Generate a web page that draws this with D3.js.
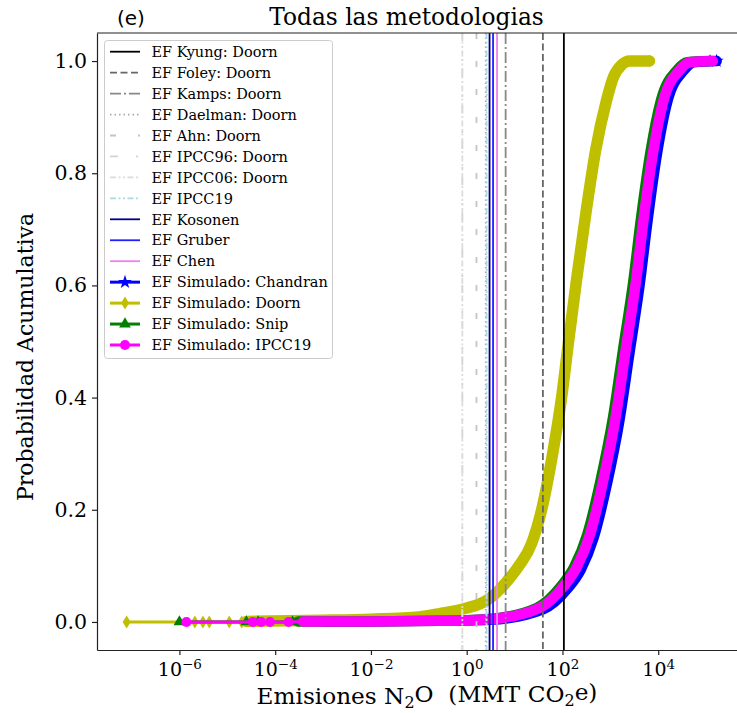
<!DOCTYPE html>
<html>
<head>
<meta charset="utf-8">
<script src="https://cdn.jsdelivr.net/npm/d3@7"></script>
<style>
  body { margin: 0; background: #fff; }
  text { font-family: "DejaVu Serif", serif; fill: #000; }
</style>
</head>
<body>
<div id="container"></div>
<script>
/* CONSTANTS AND GLOBALS */
const width = 737,
  height = 713,
  margin = { top: 33, bottom: 63, left: 97 };
const plotRight = 754; // right spine sits just past the picture edge

/* DATA */
// reference emission factors, MMT CO2e -> one vertical line each
const refLabels = [
  "EF Kyung: Doorn", "EF Foley: Doorn", "EF Kamps: Doorn", "EF Daelman: Doorn",
  "EF Ahn: Doorn", "EF IPCC96: Doorn", "EF IPCC06: Doorn", "EF IPCC19",
  "EF Kosonen", "EF Gruber", "EF Chen"
];
const refValues = [107, 39, 6.5, 2.5, 1.6, 0.81, 0.81, 2.6, 3.0, 3.55, 4.3];

// simulated CDFs: emissions (MMT CO2e) and cumulative probability
const chandranValues = [1e-3, 0.1, 3.0, 40, 129, 240, 447, 832, 1550, 2510, 4070, 6030, 9550, 15500, 33900, 55000, 166000];
const chandranProbs  = [0.001, 0.002, 0.004, 0.023, 0.060, 0.093, 0.150, 0.243, 0.360, 0.480, 0.600, 0.718, 0.838, 0.928, 0.983, 0.998, 1.0];
const chandranTail   = [];

const doornValues = [2.5e-5, 1e-3, 1e-2, 0.1, 0.275, 1.0, 1.87, 3.02, 4.88, 7.89, 12.8, 22.7, 36.7, 62.3, 95.9, 134, 197, 304, 491, 833, 1167, 1714, 2518, 6580];
const doornProbs  = [0.001, 0.003, 0.005, 0.009, 0.015, 0.025, 0.032, 0.042, 0.058, 0.078, 0.102, 0.14, 0.20, 0.30, 0.40, 0.50, 0.61, 0.725, 0.84, 0.93, 0.972, 0.993, 1.0, 1.0];
const doornTail   = [7.9e-8, 2.1e-6, 3.1e-6, 4.2e-6, 1.1e-5, 2.0e-5];

const snipValues = [3.0e-4, 1e-2, 0.24, 2.6, 29, 94, 176, 327, 609, 1140, 1840, 2980, 4410, 6990, 11400, 24800, 40200, 121000];
const snipProbs  = [0.001, 0.001, 0.002, 0.005, 0.025, 0.064, 0.098, 0.155, 0.248, 0.365, 0.485, 0.604, 0.722, 0.841, 0.930, 0.984, 0.998, 1.0];
const snipTail   = [1.0e-6, 2.5e-5, 4.4e-5, 2.3e-4];

const ipcc19Values = [3.8e-4, 1e-2, 0.275, 3.0, 33, 107, 200, 372, 692, 1290, 2090, 3390, 5010, 7940, 12900, 28200, 45700, 138000];
const ipcc19Probs  = [0.001, 0.001, 0.002, 0.005, 0.025, 0.064, 0.098, 0.155, 0.248, 0.365, 0.485, 0.604, 0.722, 0.841, 0.930, 0.984, 0.998, 1.0];
const ipcc19Tail   = [1.4e-6, 3.4e-5, 5.1e-5, 7.8e-5, 1.9e-4];

const simLabels = ["EF Simulado: Chandran", "EF Simulado: Doorn", "EF Simulado: Snip", "EF Simulado: IPCC19"];

const yTicks = [0, 0.2, 0.4, 0.6, 0.8, 1.0];
const xTickExps = [-6, -4, -2, 0, 2, 4];

/* STYLES */
const refStyles = [
  { color: "#000000", dash: null },
  { color: "#666666", dash: "7,3.5" },
  { color: "#888888", dash: "11,3,2,3" },
  { color: "#aaaaaa", dash: "1.5,3" },
  { color: "#c4c4c4", dash: "6,22" },
  { color: "#d3d3d3", dash: "8,18,2,8" },
  { color: "#dcdcdc", dash: "6,2.5,2,2.5,2,2.5" },
  { color: "#add8e6", dash: "6,2.5,2,2.5,2,2.5" },
  { color: "#00008b", dash: null },
  { color: "#2020ff", dash: null },
  { color: "#ee82ee", dash: null }
];
const thinDiamond = "M0,-6.5L4,0L0,6.5L-4,0Z";
const simSeries = [
  { values: chandranValues, probs: chandranProbs, tail: chandranTail, color: "#0000ff", band: 10.5,
    marker: d3.symbol(d3.symbolStar, 60)() },
  { values: doornValues, probs: doornProbs, tail: doornTail, color: "#bfbf00", band: 11.5,
    marker: thinDiamond },
  { values: snipValues, probs: snipProbs, tail: snipTail, color: "#008000", band: 10.5,
    marker: d3.symbol(d3.symbolTriangle, 60)() },
  { values: ipcc19Values, probs: ipcc19Probs, tail: ipcc19Tail, color: "#ff00ff", band: 10.5,
    marker: d3.symbol(d3.symbolCircle, 80)() }
];

/* SCALES */
const x = d3.scaleLog()
  .domain([1.9e-8, 1e6])
  .range([margin.left, plotRight]);

const y = d3.scaleLinear()
  .domain([-0.05, 1.05])
  .range([height - margin.bottom, margin.top]);

const svg = d3.select("#container")
  .append("svg")
  .attr("width", width)
  .attr("height", height)
  .style("background-color", "white");

svg.append("clipPath").attr("id", "plotclip")
  .append("rect")
  .attr("x", margin.left).attr("y", margin.top)
  .attr("width", plotRight - margin.left)
  .attr("height", height - margin.bottom - margin.top);

const plot = svg.append("g").attr("clip-path", "url(#plotclip)");

/* SIMULATED CDF CURVES */
const lineGen = d3.line()
  .x(d => x(d[0]))
  .y(d => y(d[1]))
  .curve(d3.curveMonotoneX);

simSeries.forEach(s => {
  const pts = s.values.map((v, i) => [v, s.probs[i]]);
  const tailPts = s.tail.map(v => [v, 0]);

  // thin connecting line through the sparse tail
  plot.append("path")
    .attr("d", d3.line().x(d => x(d[0])).y(d => y(d[1]))(tailPts.concat([pts[0]])))
    .attr("fill", "none")
    .attr("stroke", s.color)
    .attr("stroke-width", 3);

  // dense markers form a thick band
  plot.append("path")
    .attr("d", lineGen(pts))
    .attr("fill", "none")
    .attr("stroke", s.color)
    .attr("stroke-width", s.band)
    .attr("stroke-linejoin", "round")
    .attr("stroke-linecap", "round");

  plot.selectAll(null)
    .data(tailPts.concat([pts[pts.length - 1]]))
    .join("path")
    .attr("d", s.marker)
    .attr("transform", d => `translate(${x(d[0])},${y(d[1])})`)
    .attr("fill", s.color);
});

/* REFERENCE VERTICAL LINES */
plot.selectAll("line.ref")
  .data(refValues)
  .join("line")
  .attr("class", "ref")
  .attr("x1", d => x(d)).attr("x2", d => x(d))
  .attr("y1", margin.top).attr("y2", height - margin.bottom)
  .attr("stroke", (d, i) => refStyles[i].color)
  .attr("stroke-dasharray", (d, i) => refStyles[i].dash)
  .attr("stroke-width", 1.8);

/* AXES */
const xAxis = svg.append("g")
  .attr("transform", `translate(0,${height - margin.bottom})`)
  .call(d3.axisBottom(x)
    .tickValues(xTickExps.map(e => Math.pow(10, e)))
    .tickSize(5)
    .tickSizeOuter(0)
    .tickPadding(5)
    .tickFormat(""));

xAxis.selectAll(".tick text")
  .data(xTickExps)
  .attr("font-size", 19)
  .attr("dy", "0.85em")
  .each(function (e) {
    const t = d3.select(this);
    t.text(null);
    t.append("tspan").text("10");
    t.append("tspan").attr("font-size", 13.5).attr("dy", "-0.55em").text(e < 0 ? "\u2212" + (-e) : e);
  });

const yAxis = svg.append("g")
  .attr("transform", `translate(${margin.left},0)`)
  .call(d3.axisLeft(y)
    .tickValues(yTicks)
    .tickSize(5)
    .tickSizeOuter(0)
    .tickPadding(5)
    .tickFormat(d3.format(".1f")));

yAxis.selectAll(".tick text").attr("font-size", 20.5).attr("font-family", "DejaVu Serif");
svg.selectAll(".domain, .tick line").attr("stroke", "#222").attr("stroke-width", 1.2);

// top spine
svg.append("line")
  .attr("x1", margin.left).attr("x2", plotRight)
  .attr("y1", margin.top).attr("y2", margin.top)
  .attr("stroke", "#222").attr("stroke-width", 1.2);

/* TITLES AND LABELS */
svg.append("text")
  .attr("x", 406.5).attr("y", 25)
  .attr("text-anchor", "middle")
  .attr("font-size", 23.3)
  .text("Todas las metodologias");

svg.append("text")
  .attr("x", 117).attr("y", 25)
  .attr("font-size", 20)
  .style("font-family", "DejaVu Sans")
  .text("(e)");

const xl = svg.append("text")
  .attr("x", 427).attr("y", 704)
  .attr("text-anchor", "middle")
  .attr("font-size", 23.2)
  .attr("xml:space", "preserve");
xl.append("tspan").text("Emisiones N");
xl.append("tspan").attr("font-size", 16).attr("dy", "0.25em").text("2");
xl.append("tspan").attr("dy", "-0.25em").text("O\u00a0\u00a0(MMT CO");
xl.append("tspan").attr("font-size", 16).attr("dy", "0.25em").text("2");
xl.append("tspan").attr("dy", "-0.25em").text("e)");

svg.append("text")
  .attr("transform", "translate(33,357) rotate(-90)")
  .attr("text-anchor", "middle")
  .attr("font-size", 22)
  .text("Probabilidad Acumulativa");

/* LEGEND */
const legend = svg.append("g");
legend.append("rect")
  .attr("x", 104.5).attr("y", 40.5)
  .attr("width", 228).attr("height", 318)
  .attr("rx", 3)
  .attr("fill", "white").attr("fill-opacity", 0.85)
  .attr("stroke", "#cccccc");

const rowY = i => 51.7 + i * 20.95;

refLabels.forEach((label, i) => {
  legend.append("line")
    .attr("x1", 110).attr("x2", 140)
    .attr("y1", rowY(i)).attr("y2", rowY(i))
    .attr("stroke", refStyles[i].color)
    .attr("stroke-dasharray", refStyles[i].dash)
    .attr("stroke-width", 1.8);
  legend.append("text")
    .attr("x", 151.5).attr("y", rowY(i))
    .attr("dy", "0.36em")
    .attr("font-size", 14.5)
    .text(label);
});

simLabels.forEach((label, j) => {
  const i = refLabels.length + j;
  const s = simSeries[j];
  legend.append("line")
    .attr("x1", 110).attr("x2", 140)
    .attr("y1", rowY(i)).attr("y2", rowY(i))
    .attr("stroke", s.color)
    .attr("stroke-width", 3);
  legend.append("path")
    .attr("d", s.marker)
    .attr("transform", `translate(125,${rowY(i)})`)
    .attr("fill", s.color);
  legend.append("text")
    .attr("x", 151.5).attr("y", rowY(i))
    .attr("dy", "0.36em")
    .attr("font-size", 14.5)
    .text(label);
});
</script>
</body>
</html>
